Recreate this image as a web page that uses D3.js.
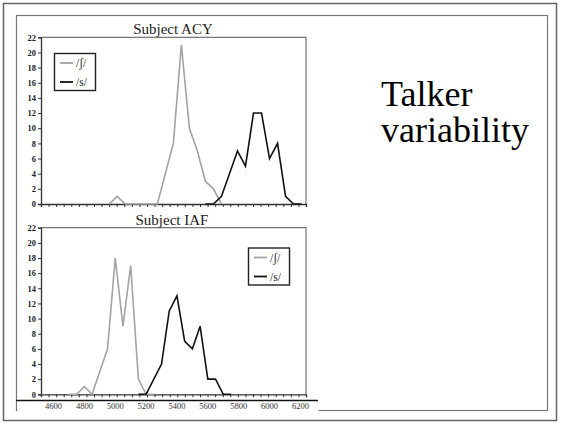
<!DOCTYPE html>
<html><head><meta charset="utf-8">
<script src="https://cdn.jsdelivr.net/npm/d3@7"></script>
<style>body{margin:0;background:#fff}svg{display:block}</style>
</head><body>
<svg id="c" width="561" height="424"></svg>
<script>
// ---- data ----
const yTickValues = [0,2,4,6,8,10,12,14,16,18,20,22];
const xLabelValues = [4600,4800,5000,5200,5400,5600,5800,6000,6200];
const xTickValues = [4550,4600,4650,4700,4750,4800,4850,4900,4950,5000,5050,5100,5150,5200,5250,5300,5350,5400,5450,5500,5550,5600,5650,5700,5750,5800,5850,5900,5950,6000,6050,6100,6150,6200,6250];
const seriesNames = ["/\u0283/", "/s/"];

const acyShX = [5000,5050,5100,5150,5200,5250,5300,5350,5400,5450,5500,5550,5600,5650,5700];
const acyShY = [0,1,0,0,0,0,0,4,8,21,10,7,3,2,0];
const acySX  = [5600,5650,5700,5750,5800,5850,5900,5950,6000,6050,6100,6150,6200];
const acySY  = [0,0,1,4,7,5,12,12,6,8,1,0,0];

const iafShX = [4700,4750,4800,4850,4900,4950,5000,5050,5100,5150,5200,5250];
const iafShY = [0,0,1,0,3,6,18,9,17,2,0,0];
const iafSX  = [5150,5200,5250,5300,5350,5400,5450,5500,5550,5600,5650,5700,5750];
const iafSY  = [0,0,2,4,11,13,7,6,9,2,2,0,0];

const svg = d3.select("#c");
const serif = "'Liberation Serif','Times New Roman','DejaVu Serif',serif";

// slide frames
svg.append("rect").attr("x",3.5).attr("y",3.5).attr("width",553).attr("height",417)
  .attr("fill","none").attr("stroke","#666").attr("stroke-width",1.5);
svg.append("rect").attr("x",16.5).attr("y",15.5).attr("width",531).attr("height",395)
  .attr("fill","none").attr("stroke","#777").attr("stroke-width",1.2);

// title text on right
const tt = svg.append("text").style("font-family",serif)
  .style("font-size","36px").attr("fill","#000");
tt.append("tspan").attr("x",381).attr("y",106).text("Talker");
tt.append("tspan").attr("x",381).attr("y",142).text("variability");

const xTick = d3.scaleLinear().domain([4500,6250]).range([41,306]);

function panel(o){
  const x = d3.scaleLinear().domain([4500,6250]).range(o.xr);
  const y = d3.scaleLinear().domain([0,22]).range([o.y0,o.y1]);
  const g = svg.append("g");
  g.append("path").attr("d",`M41,${o.y1}H306V${o.y0}`).attr("fill","none")
    .attr("stroke","#777").attr("stroke-width",1.2);
  const ya = g.append("g").attr("transform","translate(41,0)")
    .call(d3.axisLeft(y).tickValues(yTickValues).tickSize(3).tickPadding(2));
  ya.select(".domain").attr("stroke","#333").attr("stroke-width",1.3);
  ya.selectAll(".tick line").attr("stroke","#333");
  ya.selectAll("text").style("font-family",serif).style("font-size","8.5px")
    .style("font-weight","bold").attr("fill","#222");
  const xa = g.append("g").attr("transform",`translate(0,${o.y0})`)
    .call(d3.axisBottom(xTick).tickValues(xTickValues).tickSize(3).tickFormat(""));
  xa.select(".domain").attr("stroke","#333").attr("stroke-width",1.3);
  xa.selectAll(".tick line").attr("stroke","#333");
  const line = d3.line().x(d=>x(d[0])).y(d=>y(d[1]));
  g.append("path").datum(o.shX.map((v,i)=>[v,o.shY[i]])).attr("d",line)
    .attr("fill","none").attr("stroke","#a3a3a3").attr("stroke-width",1.6);
  g.append("path").datum(o.sX.map((v,i)=>[v,o.sY[i]])).attr("d",line)
    .attr("fill","none").attr("stroke","#111").attr("stroke-width",1.6);
  g.append("text").attr("x",o.tx).attr("y",o.ty).attr("text-anchor","middle")
    .style("font-family",serif).style("font-size","15px").attr("fill","#222").text(o.title);
  const L = o.leg;
  g.append("rect").attr("x",L[0]).attr("y",L[1]).attr("width",41).attr("height",37)
    .attr("fill","#fff").attr("stroke","#222").attr("stroke-width",1.4);
  const cols = ["#a3a3a3","#111"];
  seriesNames.forEach((s,i)=>{
    const yy = L[1]+9.5+i*19;
    g.append("line").attr("x1",L[0]+5.5).attr("x2",L[0]+18.5).attr("y1",yy).attr("y2",yy)
      .attr("stroke",cols[i]).attr("stroke-width",1.8);
    g.append("text").attr("x",L[0]+21.5).attr("y",yy+4).style("font-family",serif)
      .style("font-size","11.5px").attr("fill","#222").text(s);
  });
  return x;
}

panel({xr:[29.1,309.6], y0:204, y1:37.3, title:"Subject ACY", tx:173, ty:33.5,
  leg:[54.5,53.5], shX:acyShX, shY:acyShY, sX:acySX, sY:acySY});
const xb = panel({xr:[38.1,308.1], y0:394.3, y1:227.7, title:"Subject IAF", tx:172, ty:224.5,
  leg:[248.5,248], shX:iafShX, shY:iafShY, sX:iafSX, sY:iafSY});

svg.append("rect").attr("x",17.5).attr("y",398).attr("width",301).attr("height",16).attr("fill","#fff");
svg.append("line").attr("x1",16).attr("x2",318).attr("y1",400.5).attr("y2",400.5)
  .attr("stroke","#111").attr("stroke-width",1.5);
svg.append("g").selectAll("text").data(xLabelValues).join("text")
  .attr("x",d=>xb(d)).attr("y",409).attr("text-anchor","middle")
  .style("font-family",serif).style("font-size","8.5px").attr("fill","#333").text(d=>d);
</script>
</body></html>
